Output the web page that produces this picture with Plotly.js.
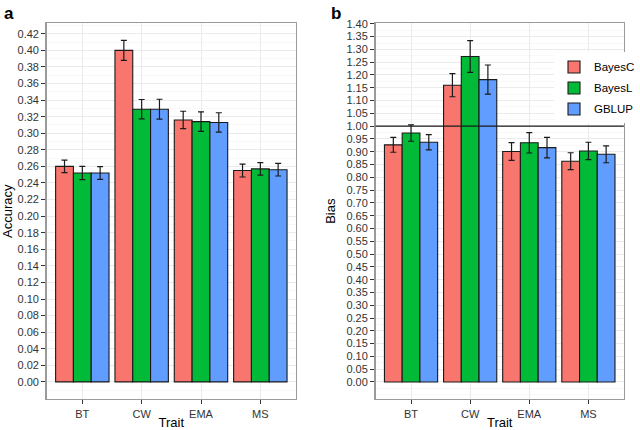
<!DOCTYPE html>
<html>
<head>
<meta charset="utf-8">
<script src="https://cdn.plot.ly/plotly-3.0.1.min.js"></script>
<style>
  html, body { margin: 0; padding: 0; background: #fff; }
  #chart { width: 640px; height: 430px; }
</style>
</head>
<body>
<div id="chart"></div>
<script>
// Datos
const traits = ['BT', 'CW', 'EMA', 'MS'];
const methods = ['BayesC', 'BayesL', 'GBLUP'];

// Panel a — Accuracy
const accBayesC = [0.260, 0.400, 0.316, 0.255];
const accBayesL = [0.252, 0.329, 0.314, 0.257];
const accGBLUP  = [0.252, 0.329, 0.313, 0.256];
const accErrBayesC = [0.0075, 0.012, 0.0105, 0.0078];
const accErrBayesL = [0.008, 0.0117, 0.0117, 0.0076];
const accErrGBLUP  = [0.0077, 0.012, 0.0117, 0.0076];
const accTicks = [0, 0.02, 0.04, 0.06, 0.08, 0.10, 0.12, 0.14, 0.16, 0.18, 0.20,
                  0.22, 0.24, 0.26, 0.28, 0.30, 0.32, 0.34, 0.36, 0.38, 0.40, 0.42];

// Panel b — Bias
const biasBayesC = [0.927, 1.160, 0.901, 0.863];
const biasBayesL = [0.973, 1.272, 0.935, 0.903];
const biasGBLUP  = [0.937, 1.182, 0.916, 0.890];
const biasErrBayesC = [0.029, 0.045, 0.035, 0.033];
const biasErrBayesL = [0.032, 0.062, 0.040, 0.034];
const biasErrGBLUP  = [0.030, 0.057, 0.040, 0.033];
const biasTicks = [0, 0.05, 0.10, 0.15, 0.20, 0.25, 0.30, 0.35, 0.40, 0.45, 0.50,
                   0.55, 0.60, 0.65, 0.70, 0.75, 0.80, 0.85, 0.90, 0.95, 1.00,
                   1.05, 1.10, 1.15, 1.20, 1.25, 1.30, 1.35, 1.40];

const biasRef = 1.0;

const COLORES = ['#F8766D', '#00BA38', '#619CFF'];

const accVals = [accBayesC, accBayesL, accGBLUP];
const accErrs = [accErrBayesC, accErrBayesL, accErrGBLUP];
const biasVals = [biasBayesC, biasBayesL, biasGBLUP];
const biasErrs = [biasErrBayesC, biasErrBayesL, biasErrGBLUP];

const FONT = 'Liberation Sans, Arial, sans-serif';

function barTrace(i, vals, errs, xa, ya, showLeg) {
  return {
    type: 'bar',
    x: traits,
    y: vals,
    name: methods[i],
    xaxis: xa,
    yaxis: ya,
    legendgroup: methods[i],
    showlegend: showLeg,
    offsetgroup: String(i),
    marker: { color: COLORES[i], line: { color: '#1a1a1a', width: 1.1 } },
    error_y: { type: 'data', array: errs, visible: true, color: '#1a1a1a', thickness: 1.2, width: 3 },
    hovertemplate: '%{x}: %{y:.3f}<extra>' + methods[i] + '</extra>',
  };
}

const traces = [];
for (let i = 0; i < 3; i++) traces.push(barTrace(i, accVals[i], accErrs[i], 'x', 'y', false));
for (let i = 0; i < 3; i++) traces.push(barTrace(i, biasVals[i], biasErrs[i], 'x2', 'y2', true));

const frame = { showline: true, mirror: true, linecolor: '#9a9a9a', linewidth: 1.5 };
const ejeX = {
  ...frame,
  type: 'category',
  range: [-0.6, 3.6],
  showgrid: true,
  gridcolor: '#ebebeb',
  ticks: 'outside', ticklen: 4, tickcolor: '#333', tickwidth: 1,
  tickfont: { family: FONT, size: 11, color: '#333' },
  title: { text: 'Trait', font: { family: FONT, size: 13, color: '#000' }, standoff: 1 },
  zeroline: false,
  fixedrange: true,
};
const ejeY = {
  ...frame,
  showgrid: true,
  gridcolor: '#ebebeb',
  gridwidth: 1,
  zeroline: false,
  ticks: 'outside', ticklen: 4, tickcolor: '#333', tickwidth: 1,
  tickmode: 'array',
  tickformat: '.2f',
  tickfont: { family: FONT, size: 11, color: '#333' },
  domain: [0.0721, 0.9458],
  fixedrange: true,
};

const layout = {
  width: 640,
  height: 430,
  margin: { l: 0, r: 0, t: 0, b: 0 },
  paper_bgcolor: '#fff',
  plot_bgcolor: '#fff',
  font: { family: FONT, color: '#000' },
  barmode: 'group',
  bargap: 0.1,
  bargroupgap: 0,
  xaxis: { ...ejeX, domain: [0.0745, 0.472], anchor: 'y' },
  yaxis: {
    ...ejeY, anchor: 'x',
    range: [-0.0206, 0.4326], tickvals: accTicks,
    minor: { dtick: 0.01, tick0: 0, showgrid: true, ticks: '', gridcolor: '#f3f3f3', gridwidth: 0.6 },
    title: { text: 'Accuracy', font: { family: FONT, size: 13, color: '#000' }, standoff: 8 },
  },
  xaxis2: { ...ejeX, domain: [0.599, 0.995], anchor: 'y2' },
  yaxis2: {
    ...ejeY, anchor: 'x2',
    range: [-0.0665, 1.402], tickvals: biasTicks,
    minor: { dtick: 0.025, tick0: 0, showgrid: true, ticks: '', gridcolor: '#f3f3f3', gridwidth: 0.6 },
    title: { text: 'Bias', font: { family: FONT, size: 13, color: '#000' }, standoff: 8 },
  },
  shapes: [{
    type: 'line', xref: 'x2 domain', x0: 0, x1: 1,
    yref: 'y2', y0: biasRef, y1: biasRef,
    line: { color: '#1a1a1a', width: 1.2 },
  }],
  legend: {
    x: 0.884, y: 0.878, xanchor: 'left', yanchor: 'top',
    bgcolor: '#fff', borderwidth: 0,
    font: { family: FONT, size: 11.5, color: '#000' },
    tracegroupgap: 2,
  },
  annotations: [
    { text: '<b>a</b>', xref: 'paper', yref: 'paper', x: 0.003, y: 0.995, xanchor: 'left', yanchor: 'top',
      showarrow: false, font: { family: FONT, size: 17, color: '#000' } },
    { text: '<b>b</b>', xref: 'paper', yref: 'paper', x: 0.524, y: 0.995, xanchor: 'left', yanchor: 'top',
      showarrow: false, font: { family: FONT, size: 17, color: '#000' } },
  ],
};

Plotly.newPlot('chart', traces, layout, { displayModeBar: false, staticPlot: true });
</script>
</body>
</html>
